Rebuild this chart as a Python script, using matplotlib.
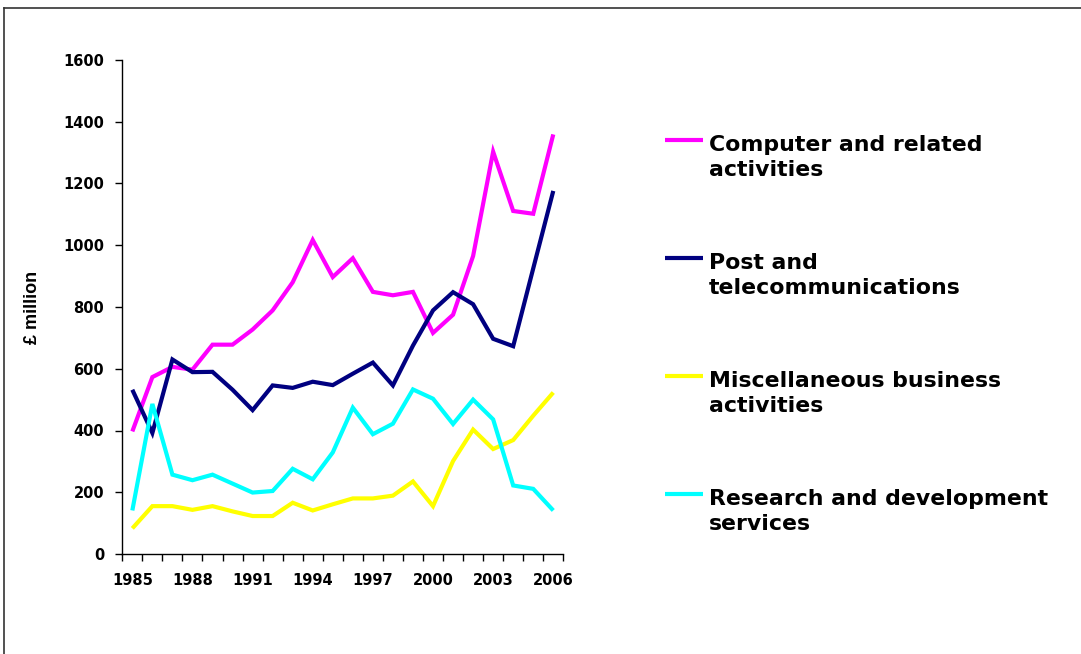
import matplotlib
matplotlib.use("Agg")
import matplotlib.pyplot as plt
from matplotlib.lines import Line2D
import numpy as np

years = list(range(1985, 2007))
computer = [397, 573, 606, 597, 678, 678, 727, 789, 880, 1017, 897, 958, 849, 838, 849, 716,
            775, 965, 1303, 1111, 1102, 1359]
post = [532, 392, 630, 589, 590, 532, 466, 546, 538, 558, 547, 584, 620, 546, 675, 789,
        848, 809, 697, 673, 925, 1176]
misc = [83, 155, 155, 143, 155, 138, 123, 123, 166, 141, 161, 180, 180, 189, 235, 155,
        301, 403, 340, 369, 448, 523]
rnd = [141, 486, 257, 239, 257, 228, 199, 204, 276, 242, 329, 474, 388, 422, 533, 503,
       421, 500, 436, 222, 211, 141]

series_names = ["Computer and related\nactivities",
                "Post and\ntelecommunications",
                "Miscellaneous business\nactivities",
                "Research and development\nservices"]
series_values = [computer, post, misc, rnd]
colors = ["#FF00FF", "#000080", "#FFFF00", "#00FFFF"]
ytick_values = [0, 200, 400, 600, 800, 1000, 1200, 1400, 1600]
xtick_labels = ["1985", "1988", "1991", "1994", "1997", "2000", "2003", "2006"]

W, H = 1081, 654
fig = plt.figure(figsize=(W / 100, H / 100), dpi=100)
ax = fig.add_axes([122.3 / W, 1 - 554 / H, (563.3 - 122.3) / W, (554 - 60) / H])

x = np.arange(len(years))
for vals, c in zip(series_values, colors):
    ax.plot(x, vals, color=c, lw=3, solid_joinstyle="miter", solid_capstyle="butt")

ax.set_xlim(-0.5, len(years) - 0.5)
ax.set_ylim(0, 1600)
for s in ["top", "right"]:
    ax.spines[s].set_visible(False)
for s in ["left", "bottom"]:
    ax.spines[s].set_linewidth(1.0)
    ax.spines[s].set_color("black")

tickfont = dict(family="DejaVu Sans", weight="bold", size=10.5)
ax.set_yticks(ytick_values)
ax.set_yticklabels([str(v) for v in ytick_values], fontdict=tickfont)
ax.tick_params(axis="y", direction="out", length=5, width=1, pad=8)

# category boundaries as major ticks, labels as minor ticks
ax.set_xticks(np.arange(-0.5, len(years)))
ax.set_xticklabels([])
ax.tick_params(axis="x", which="major", direction="out", length=5, width=1)
lab_pos = [years.index(int(t)) for t in xtick_labels]
ax.set_xticks(lab_pos, minor=True)
ax.set_xticklabels(xtick_labels, minor=True, fontdict=tickfont)
ax.tick_params(axis="x", which="minor", length=0, pad=14)

ax.set_ylabel("£ million", family="Liberation Sans", weight="bold", fontsize=13, labelpad=16)

# legend drawn manually (handle aligned with first line of each label)
leg_y = [140, 258, 376, 494]
for name, c, yy in zip(series_names, colors, leg_y):
    fig.add_artist(Line2D([665 / W, 703 / W], [1 - yy / H, 1 - yy / H], color=c, lw=3,
                          solid_capstyle="butt", transform=fig.transFigure))
    fig.text(709 / W, 1 - (yy + 36) / H, name, family="DejaVu Sans", weight="bold",
             fontsize=15.8, va="baseline", ha="left", linespacing=1.33)

# outer frame (top and left edges)
fig.add_artist(Line2D([3.5 / W, 1.0], [1 - 7.5 / H, 1 - 7.5 / H], color="#333333", lw=1.2,
                      transform=fig.transFigure))
fig.add_artist(Line2D([3.5 / W, 3.5 / W], [0, 1 - 7.5 / H], color="#333333", lw=1.2,
                      transform=fig.transFigure))

fig.savefig("out.png", dpi=100)
